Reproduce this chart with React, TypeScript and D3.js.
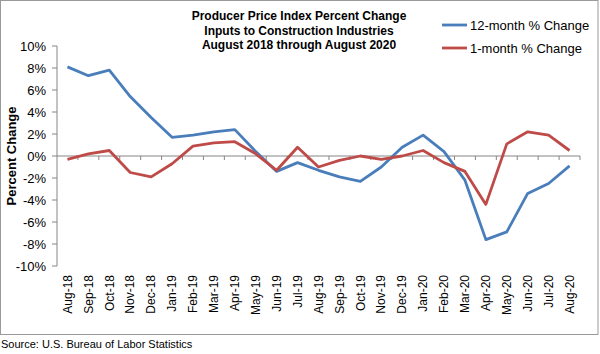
import React from "react";
import * as d3 from "d3";

const months = ["Aug-18","Sep-18","Oct-18","Nov-18","Dec-18","Jan-19","Feb-19","Mar-19","Apr-19","May-19","Jun-19","Jul-19","Aug-19","Sep-19","Oct-19","Nov-19","Dec-19","Jan-20","Feb-20","Mar-20","Apr-20","May-20","Jun-20","Jul-20","Aug-20"];
const twelveMonth = [8.1,7.3,7.8,5.4,3.5,1.7,1.9,2.2,2.4,0.4,-1.4,-0.6,-1.3,-1.9,-2.3,-1.0,0.8,1.9,0.4,-2.2,-7.6,-6.9,-3.4,-2.5,-0.9];
const oneMonth = [-0.3,0.2,0.5,-1.5,-1.9,-0.7,0.9,1.2,1.3,0.2,-1.3,0.8,-1.0,-0.4,0.0,-0.3,0.0,0.5,-0.6,-1.4,-4.4,1.1,2.2,1.9,0.5];
const yTicks = [10,8,6,4,2,0,-2,-4,-6,-8,-10];
const titleLines = ["Producer Price Index Percent Change","Inputs to Construction Industries","August 2018 through August 2020"];
const seriesNames = ["12-month % Change","1-month % Change"];
const colors = ["#4a7ebb","#be4b48"];

export default function App() {
  const W = 600, H = 354;
  const left = 57, right = 580, top = 46, bottom = 266;
  const x = d3.scaleBand<string>().domain(months).range([left, right]);
  const y = d3.scaleLinear().domain([-10, 10]).range([bottom, top]);
  const line = d3.line<number>().x((_, i) => (x(months[i]) as number) + x.bandwidth() / 2).y(d => y(d));
  const font = "Arial, 'Liberation Sans', sans-serif";
  const axisColor = "#868686";
  const y0 = y(0);
  return (
    <svg width={W} height={H} style={{ position: "absolute", left: 0, top: 0, background: "#fff" }} fontFamily={font}>
      <rect x={0.5} y={0.5} width={597.5} height={334} fill="#fff" stroke="#9a9a9a" strokeWidth={1} />
      {titleLines.map((t, i) => (
        <text key={t} x={299} y={20 + i * 14.5} textAnchor="middle" fontSize={12} fontWeight="bold" fill="#000">{t}</text>
      ))}
      {/* y axis */}
      <line x1={left} x2={left} y1={top} y2={bottom} stroke={axisColor} />
      {yTicks.map(t => (
        <g key={t}>
          <line x1={left - 5} x2={left} y1={y(t)} y2={y(t)} stroke={axisColor} />
          <text x={46} y={y(t)} dy="0.35em" textAnchor="end" fontSize={13} fill="#000">{t}%</text>
        </g>
      ))}
      <text transform={`translate(11,${(top + bottom) / 2}) rotate(-90)`} textAnchor="middle" fontSize={13} fontWeight="bold" fill="#000" dy="0.35em">Percent Change</text>
      {/* x axis at 0 */}
      <line x1={left} x2={right} y1={y0} y2={y0} stroke={axisColor} />
      {months.map((m, i) => (
        <line key={"t" + m} x1={(x(m) as number) + x.bandwidth()} x2={(x(m) as number) + x.bandwidth()} y1={y0} y2={y0 + 4} stroke={axisColor} />
      ))}
      {months.map(m => (
        <text key={m} transform={`translate(${(x(m) as number) + x.bandwidth() / 2},${bottom + 9}) rotate(-90)`} textAnchor="end" dy="0.35em" fontSize={12} fill="#000">{m}</text>
      ))}
      <path d={line(twelveMonth) || ""} fill="none" stroke={colors[0]} strokeWidth={2.8} strokeLinejoin="round" />
      <path d={line(oneMonth) || ""} fill="none" stroke={colors[1]} strokeWidth={2.8} strokeLinejoin="round" />
      {seriesNames.map((s, i) => (
        <g key={s}>
          <line x1={442} x2={467} y1={25 + i * 23} y2={25 + i * 23} stroke={colors[i]} strokeWidth={2.8} />
          <text x={470} y={25 + i * 23} dy="0.35em" fontSize={13} fill="#000">{s}</text>
        </g>
      ))}
      <text x={1} y={348} fontSize={11} fill="#000">Source: U.S. Bureau of Labor Statistics</text>
    </svg>
  );
}
